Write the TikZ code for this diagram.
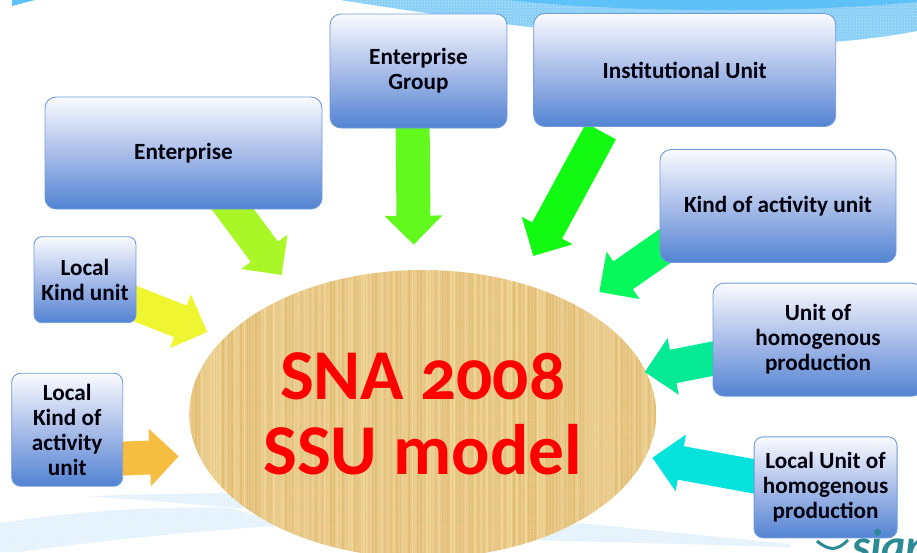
\documentclass[tikz,border=0pt]{standalone}
\usepackage{fontspec}
\setmainfont[Numbers=OldStyle]{Carlito}
\usepackage{tikz}
\usetikzlibrary{calc}
\usetikzlibrary{arrows.meta}
\usetikzlibrary{backgrounds}
\usetikzlibrary{patterns}
\usetikzlibrary{shapes.geometric}
\definecolor{BoxTop}{HTML}{FAFBFE}
\definecolor{BoxMid}{HTML}{A9BDE9}
\definecolor{BoxLow}{HTML}{5283D2}
\definecolor{BoxLine}{HTML}{6F9BDC}
\definecolor{WaveDark}{HTML}{5EC1F7}
\definecolor{WaveLight}{HTML}{85CEF8}
\definecolor{WavePale}{HTML}{E3F2FC}
\definecolor{Straw}{HTML}{E6C98C}
\definecolor{LogoTeal}{HTML}{2B8A96}
\tikzset{Unit/.style={draw=BoxLine, line width=0.9pt, rounded corners=11pt, inner sep=0pt, align=center,
             top color=BoxTop, bottom color=BoxLow, middle color=BoxMid, text=black!95!blue,
             font=\fontsize{23.2}{25}\selectfont\bfseries},
         Block/.style={line width=34pt, -{Triangle[length=29pt,width=56pt]}},
         Dots/.style={postaction={pattern=crosshatch dots, pattern color=white!60!#1}}}
\begin{document}
\begin{tikzpicture}[x=1pt, y=-1pt]
    \useasboundingbox (0,0) rectangle (917,552);
    \node[Unit, minimum width=277pt, minimum height=112pt] (Ent) at (183.5,153) {Enterprise};
    \node[Unit, minimum width=177pt, minimum height=114pt] (EntGrp) at (418.5,71) {Enterprise\\Group};
    \node[Unit, minimum width=302pt, minimum height=113pt] (InstU) at (684.7,70) {Institutional Unit};
    \node[Unit, minimum width=236pt, minimum height=113pt] (KindU) at (778,206) {Kind of activity unit};
    \node[Unit, minimum width=210pt, minimum height=113pt] (HomU) at (818,339.6) {Unit of\\homogenous\\production};
    \node[Unit, rounded corners=9pt, minimum width=143pt, minimum height=101pt] (LocHomU) at (825.6,487.3) {Local Unit of\\homogenous\\production};
    \node[Unit, rounded corners=8pt, minimum width=102pt, minimum height=86pt] (LocKindU) at (85,279.7) {Local\\Kind unit};
    \node[Unit, rounded corners=9pt, minimum width=111pt, minimum height=113pt] (LocActU) at (67.2,429.7) {Local\\Kind of\\activity\\unit};
    \node[ellipse, inner sep=0pt, minimum width=467pt, minimum height=288pt, align=center,
          text=red, font=\fontsize{71.5}{75}\selectfont\bfseries] (SSU) at (422.7,414) {SNA 2008\\SSU model};
    \coordinate (T0) at (281.7,275);
    \coordinate (T1) at (413.7,244.7);
    \coordinate (T2) at (533.3,256);
    \coordinate (T3) at (599.3,292);
    \coordinate (T4) at (644.7,372);
    \coordinate (T5) at (652.3,457.7);
    \coordinate (T6) at (207.3,332);
    \coordinate (T7) at (178.7,456.3);
    \begin{scope}[on background layer]
    % waves behind the picture
    \fill[WaveLight, Dots=WaveLight] (340,0) .. controls (430,14) and (533,29) .. (620,37) .. controls (720,48) and (830,48) .. (917,31) -- (917,0) -- cycle;
    \fill[WaveDark] (507,0) .. controls (600,10) and (760,16) .. (917,2) -- (917,0) -- cycle;
    \fill[WaveDark] (12,0) -- (35,0) -- (12,6) -- cycle;
    \fill[WavePale, Dots=WavePale] (0,523) .. controls (80,510) and (170,506) .. (230,508) -- (290,525) .. controls (180,532) and (90,542) .. (20,552) -- (0,552) -- cycle;
    \fill[WavePale, Dots=WavePale] (87,496) -- (230,492.5) -- (250,509) .. controls (190,504) and (140,500) .. (87,496) -- cycle;
    \fill[WavePale, Dots=WavePale] (580,523) -- (790,544) -- (790,547) -- (530,540) -- cycle;
    \fill[white] (815,530) rectangle (917,552);
    % woven look of the ellipse
    \begin{scope}
    \clip (SSU.center) ellipse [x radius=233.5, y radius=144];
    \fill[Straw] (SSU.center) ellipse [x radius=233.5, y radius=144];
    \pgfmathsetseed{7}
    \foreach \i in {190,193,...,656} {
        \pgfmathsetmacro{\lw}{0.6+2*rnd}
        \pgfmathsetmacro{\op}{0.10+0.25*rnd}
        \pgfmathtruncatemacro{\pick}{rnd>0.5 ? 1 : 0}
        \ifnum\pick>0 \draw[line width=\lw pt, color=brown!70!yellow, opacity=\op] (\i,268) -- (\i,560);
        \else \draw[line width=\lw pt, color=yellow!35!white, opacity=\op] (\i,268) -- (\i,560); \fi
    }
    \foreach \j in {270,273,...,558} {
        \pgfmathsetmacro{\lw}{0.6+1.6*rnd}
        \pgfmathsetmacro{\op}{0.08+0.22*rnd}
        \draw[line width=\lw pt, color=orange!45!white, opacity=\op] (185,\j) -- (660,\j);
    }
    \end{scope}
    \path[Block]
        ($(Ent.south)+(34.5,-20)$) edge[draw={rgb,255:red,170;green,247;blue,40}] (T0)
        ($(EntGrp.south)+(-6,-18)$) edge[draw={rgb,255:red,98;green,249;blue,30}] (T1)
        ($(InstU.south)+(-83.7,4.3)$) edge[draw={rgb,255:red,18;green,249;blue,18}] (T2)
        ($(KindU.west)+(21.3,29)$) edge[draw={rgb,255:red,6;green,248;blue,90}] (T3)
        ($(HomU.west)+(29,13.4)$) edge[draw={rgb,255:red,6;green,234;blue,150}] (T4)
        ($(LocHomU.west)+(25.7,-6.3)$) edge[draw={rgb,255:red,6;green,227;blue,220}] (T5)
        ($(LocKindU.east)+(-21.7,15.8)$) edge[draw={rgb,255:red,240;green,245;blue,50}] (T6)
        ($(LocActU.east)+(-22.7,29.8)$) edge[draw={rgb,255:red,245;green,190;blue,65}] (T7);
    \end{scope}
    % logo cut off by the page
    \node[anchor=north west, inner sep=0pt, text=LogoTeal, font=\fontsize{46}{46}\selectfont\bfseries\itshape] (Logo) at (852,529) {siap};
    \draw[LogoTeal, line width=3pt] (817,541) .. controls (830,552) and (838,550) .. (848,540);
  \end{tikzpicture}
\end{document}
